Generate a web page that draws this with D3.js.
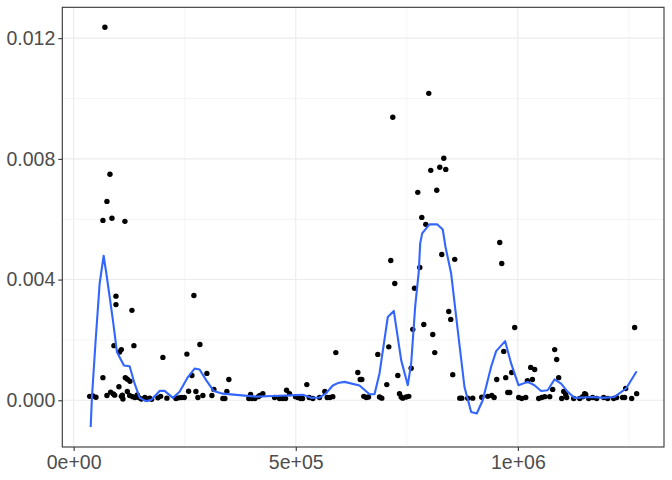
<!DOCTYPE html>
<html>
<head>
<meta charset="utf-8">
<script src="https://cdn.jsdelivr.net/npm/d3@7"></script>
<style>
  html, body { margin: 0; padding: 0; background: #ffffff; }
  svg { display: block; }
  text { font-family: "Liberation Sans", Arial, sans-serif; }
</style>
</head>
<body>
<svg id="chart" width="672" height="480"></svg>
<script>
// ---- data ----
const pointX = [
  70400, 81700, 74900, 65900, 86200, 115400, 95200, 95200, 131200, 90700,
  107300, 103500, 135700, 200900, 254900, 65900, 116300, 120800, 126700, 101900,
  36000, 43400, 50200, 74900, 83300, 89300, 92300, 107300, 110900, 109600,
  120800, 126000, 132800, 137900, 143300, 146300, 152300, 160400, 165800, 171000,
  175500, 189700, 195800, 209900, 230200, 236300, 242300, 249100, 258800, 270700,
  284200, 266200, 299900, 349400, 275200, 315700, 344900, 290900, 311200, 279700,
  335900, 340400, 398300, 394400, 401200, 407900, 415600, 419200, 425900, 452300,
  463500, 470300, 477000, 479300, 486000, 499500, 504700, 510800, 515300, 524900,
  530300, 538400, 553500, 565400, 570800, 576700, 583400, 590200, 713900, 722900,
  709400, 684700, 639700, 645100, 648700, 704900, 729700, 733500, 653200, 658600,
  663800, 688500, 693700, 737300, 740900, 748600, 754400, 759800, 763400, 767300,
  779200, 788200, 808400, 812900, 828700, 857900, 844400, 848900, 853400, 869200,
  873700, 887200, 898400, 918700, 932200, 799400, 718400, 833200, 824200, 837700,
  803900, 774700, 817400, 783700, 792700, 959200, 963700, 992900, 1262900, 968200,
  1082900, 1087400, 1028900, 1037900, 986200, 972700, 952400, 1021400, 1032700, 1091900,
  1078400, 977200, 981700, 1103200, 1107700, 1150400, 1152700, 1242700, 1267400, 941200,
  946600, 1001900, 1008700, 1017700, 1046900, 1053700, 1060400, 1071700, 1098700, 1109900,
  1125700, 1139200, 1145900, 1159400, 1168400, 1177400, 1193200, 1202200, 1215700, 1222400,
  1235900, 1240400, 1256200
];
const pointY = [
  0.01236, 0.00749, 0.00659, 0.00596, 0.00603, 0.00593, 0.00345, 0.00317, 0.00298, 0.00181,
  0.00168, 0.00160, 0.00181, 0.00142, 0.00153, 0.00075, 0.00075, 0.00070, 0.00063, 0.00045,
  0.00013, 0.00014, 0.00010, 0.00016, 0.00027, 0.00021, 0.00017, 0.00013, 0.00004, 0.00017,
  0.00029, 0.00016, 0.00012, 0.00009, 0.00018, 0.00009, 0.00004, 0.00009, 0.00004, 0.00007,
  0.00003, 0.00008, 0.00013, 0.00007, 0.00006, 0.00008, 0.00009, 0.00009, 0.00030, 0.00347,
  0.00185, 0.00082, 0.00089, 0.00069, 0.00029, 0.00036, 0.00029, 0.00016, 0.00016, 0.00009,
  0.00006, 0.00006, 0.00019, 0.00006, 0.00006, 0.00006, 0.00012, 0.00016, 0.00022, 0.00009,
  0.00006, 0.00006, 0.00006, 0.00033, 0.00022, 0.00012, 0.00009, 0.00006, 0.00006, 0.00052,
  0.00009, 0.00006, 0.00009, 0.00029, 0.00009, 0.00009, 0.00012, 0.00158, 0.00463, 0.00387,
  0.00177, 0.00152, 0.00092, 0.00069, 0.00069, 0.00052, 0.00082, 0.00022, 0.00013, 0.00009,
  0.00011, 0.00011, 0.00007, 0.00011, 0.00007, 0.00011, 0.00013, 0.00106, 0.00235, 0.00371,
  0.00440, 0.00251, 0.00218, 0.00158, 0.00483, 0.00467, 0.00294, 0.00268, 0.00085, 0.00007,
  0.00007, 0.00007, 0.00007, 0.00010, 0.00013, 0.01017, 0.00938, 0.00802, 0.00772, 0.00765,
  0.00762, 0.00689, 0.00696, 0.00606, 0.00583, 0.00523, 0.00453, 0.00241, 0.00241, 0.00162,
  0.00168, 0.00135, 0.00109, 0.00102, 0.00092, 0.00075, 0.00069, 0.00065, 0.00069, 0.00075,
  0.00036, 0.00026, 0.00026, 0.00029, 0.00019, 0.00022, 0.00019, 0.00039, 0.00022, 0.00016,
  0.00009, 0.00009, 0.00006, 0.00009, 0.00006, 0.00009, 0.00012, 0.00012, 0.00006, 0.00009,
  0.00006, 0.00006, 0.00012, 0.00006, 0.00009, 0.00006, 0.00009, 0.00006, 0.00006, 0.00009,
  0.00009, 0.00009, 0.00006
];
const smoothX = [
  38300, 41200, 49500, 58500, 67500, 73600, 81000, 88400, 97400, 113200,
  126000, 137300, 148500, 162000, 174800, 193500, 204800, 223400, 238500, 257200,
  272300, 283500, 298600, 315000, 335900, 366100, 411100, 448400, 515900, 534800,
  553500, 568600, 583400, 594700, 609800, 643500, 666000, 677300, 688500, 707200,
  720700, 726100, 737300, 752200, 759800, 768800, 776900, 780100, 784600, 801000,
  818300, 830900, 837000, 849800, 864700, 879800, 894800, 907400, 920900, 939800,
  951100, 971300, 984800, 1001300, 1022200, 1037300, 1052300, 1067200, 1082300, 1097300,
  1112200, 1127300, 1168400, 1190900, 1217300, 1243600, 1267400
];
const smoothY = [
  -0.000886, 0.000109, 0.00199, 0.00387, 0.00479, 0.00420, 0.00343, 0.00265, 0.00160, 0.00115,
  0.00113, 0.00055, 0.00009, -0.00003, 0.00002, 0.00031, 0.00031, 0.00008, 0.00028, 0.00077,
  0.00105, 0.00102, 0.00066, 0.00031, 0.00022, 0.00018, 0.00012, 0.00014, 0.00018, 0.00008,
  0.00009, 0.00024, 0.00049, 0.00057, 0.00061, 0.00049, 0.00020, 0.00020, 0.00089, 0.00276,
  0.00296, 0.00243, 0.00133, 0.00050, 0.00122, 0.00310, 0.00426, 0.00520, 0.00553, 0.00583,
  0.00583, 0.00566, 0.00509, 0.00420, 0.00232, 0.00044, -0.00039, -0.00044, 0.00000, 0.00111,
  0.00163, 0.00196, 0.00122, 0.00050, 0.00061, 0.00050, 0.00031, 0.00033, 0.00069, 0.00055,
  0.00028, 0.00008, 0.00011, 0.00008, 0.00011, 0.00039, 0.00096
];
const xTickValues = [0, 500000, 1000000];
const xTickLabels = ["0e+00", "5e+05", "1e+06"];
const xMinorValues = [250000, 750000, 1250000];
const yTickValues = [0, 0.004, 0.008, 0.012];
const yTickLabels = ["0.000", "0.004", "0.008", "0.012"];
const yMinorValues = [0.002, 0.006, 0.010];

// ---- layout ----
const svg = d3.select("#chart");
const panel = { left: 62.3, top: 7.3, right: 664, bottom: 447 };

const allX = pointX.concat(smoothX);
const allY = pointY.concat(smoothY);
const [x0, x1] = d3.extent(allX);
const [y0, y1] = d3.extent(allY);
const xPad = (x1 - x0) * 0.05, yPad = (y1 - y0) * 0.05;

const x = d3.scaleLinear().domain([x0 - xPad, x1 + xPad]).range([panel.left, panel.right]);
const y = d3.scaleLinear().domain([y0 - yPad, y1 + yPad]).range([panel.bottom, panel.top]);

const g = svg.append("g");

g.append("rect")
  .attr("x", panel.left).attr("y", panel.top)
  .attr("width", panel.right - panel.left).attr("height", panel.bottom - panel.top)
  .attr("fill", "#ffffff");

// minor grid
g.selectAll(".xminor").data(xMinorValues.filter(v => x(v) < panel.right)).enter().append("line")
  .attr("x1", d => x(d)).attr("x2", d => x(d))
  .attr("y1", panel.top).attr("y2", panel.bottom)
  .attr("stroke", "#EBEBEB").attr("stroke-width", 0.55);
g.selectAll(".yminor").data(yMinorValues).enter().append("line")
  .attr("y1", d => y(d)).attr("y2", d => y(d))
  .attr("x1", panel.left).attr("x2", panel.right)
  .attr("stroke", "#EBEBEB").attr("stroke-width", 0.55);
// major grid
g.selectAll(".xmajor").data(xTickValues).enter().append("line")
  .attr("x1", d => x(d)).attr("x2", d => x(d))
  .attr("y1", panel.top).attr("y2", panel.bottom)
  .attr("stroke", "#EBEBEB").attr("stroke-width", 1.1);
g.selectAll(".ymajor").data(yTickValues).enter().append("line")
  .attr("y1", d => y(d)).attr("y2", d => y(d))
  .attr("x1", panel.left).attr("x2", panel.right)
  .attr("stroke", "#EBEBEB").attr("stroke-width", 1.1);

// points
const pts = pointX.map((v, i) => ({ x: v, y: pointY[i] }));
g.selectAll(".pt").data(pts).enter().append("circle")
  .attr("cx", d => x(d.x)).attr("cy", d => y(d.y))
  .attr("r", 2.7).attr("fill", "#000000");

// smooth line
const sm = smoothX.map((v, i) => ({ x: v, y: smoothY[i] }));
g.append("path")
  .datum(sm)
  .attr("d", d3.line().x(d => x(d.x)).y(d => y(d.y)))
  .attr("fill", "none")
  .attr("stroke", "#3366FF")
  .attr("stroke-width", 2.1)
  .attr("stroke-linejoin", "round");

// panel border
g.append("rect")
  .attr("x", panel.left).attr("y", panel.top)
  .attr("width", panel.right - panel.left).attr("height", panel.bottom - panel.top)
  .attr("fill", "none").attr("stroke", "#333333").attr("stroke-width", 1.1);

// axes
const xAxis = d3.axisBottom(x).tickValues(xTickValues)
  .tickFormat((d, i) => xTickLabels[i]).tickSize(4).tickPadding(4);
const yAxis = d3.axisLeft(y).tickValues(yTickValues)
  .tickFormat((d, i) => yTickLabels[i]).tickSize(4).tickPadding(3);

const gx = svg.append("g").attr("transform", `translate(0,${panel.bottom})`).call(xAxis);
const gy = svg.append("g").attr("transform", `translate(${panel.left},0)`).call(yAxis);
[gx, gy].forEach(a => {
  a.select(".domain").remove();
  a.selectAll(".tick line").attr("stroke", "#333333").attr("stroke-width", 1.1);
  a.selectAll(".tick text").attr("fill", "#4D4D4D").attr("font-size", 19.5)
    .attr("font-family", "'Liberation Sans', Arial, sans-serif");
});
</script>
</body>
</html>
